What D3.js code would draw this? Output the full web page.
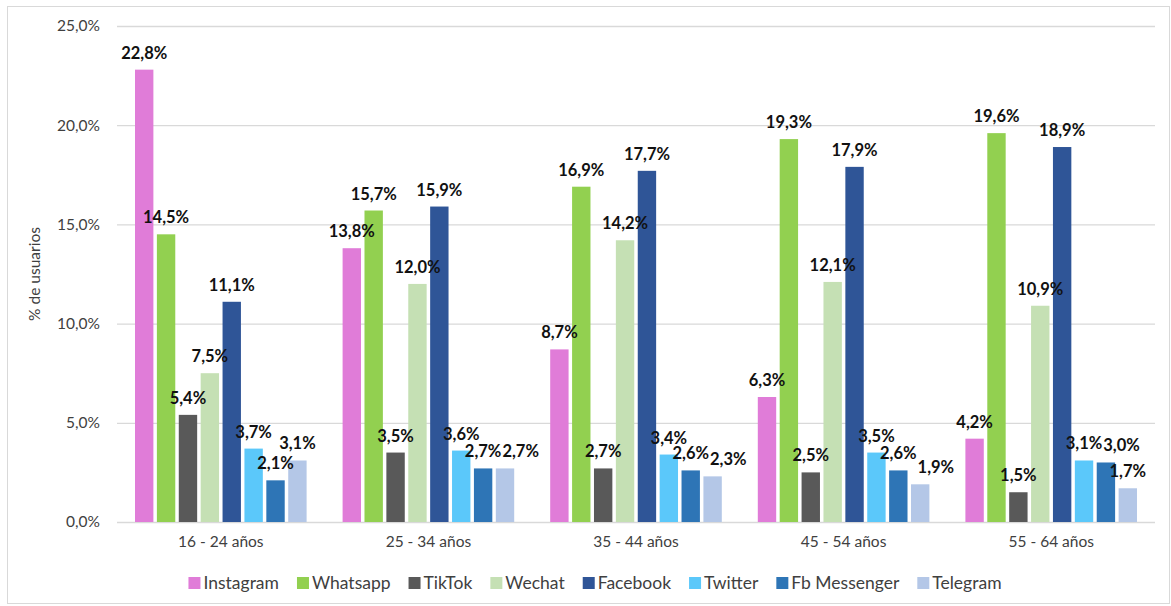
<!DOCTYPE html>
<html><head><meta charset="utf-8">
<script src="https://cdn.jsdelivr.net/npm/d3@7"></script>
<style>
html,body{margin:0;padding:0;background:#fff;}
svg text{font-family:Lato,"Open Sans",sans-serif;}
</style></head>
<body><svg id="c" width="1171" height="606"></svg>
<script>
const categories = ["16 - 24 años","25 - 34 años","35 - 44 años","45 - 54 años","55 - 64 años"];
const seriesNames = ["Instagram","Whatsapp","TikTok","Wechat","Facebook","Twitter","Fb Messenger","Telegram"];
const instagram   = [22.8, 13.8, 8.7, 6.3, 4.2];
const whatsapp    = [14.5, 15.7, 16.9, 19.3, 19.6];
const tiktok      = [5.4, 3.5, 2.7, 2.5, 1.5];
const wechat      = [7.5, 12.0, 14.2, 12.1, 10.9];
const facebook    = [11.1, 15.9, 17.7, 17.9, 18.9];
const twitter     = [3.7, 3.6, 3.4, 3.5, 3.1];
const fbMessenger = [2.1, 2.7, 2.6, 2.6, 3.0];
const telegram    = [3.1, 2.7, 2.3, 1.9, 1.7];
const yTicks = [0, 5, 10, 15, 20, 25];
const colors = ["#E07CD8","#92D050","#595959","#C5E0B4","#2F5597","#5BC8FA","#2E75B6","#B4C7E7"];

const values = [instagram, whatsapp, tiktok, wechat, facebook, twitter, fbMessenger, telegram];
const fmt = v => v.toFixed(1).replace(".", ",") + "%";

const svg = d3.select("#c");
svg.append("rect").attr("x",7.5).attr("y",6.5).attr("width",1162).attr("height",597)
  .attr("fill","#fff").attr("stroke","#d9d9d9");

const pLeft = 117, pRight = 1155, pTop = 26, pBottom = 522;
const y = d3.scaleLinear().domain([0,25]).range([pBottom, pTop]);
const x0 = d3.scaleBand().domain(categories).range([pLeft, pRight]).padding(0);
const x1 = d3.scaleBand().domain(seriesNames).range([18, x0.bandwidth()-18]).paddingInner(0.16).paddingOuter(0);

// grid
svg.append("g").selectAll("line").data(yTicks).join("line")
  .attr("x1", pLeft).attr("x2", pRight)
  .attr("y1", d => y(d)+0.5).attr("y2", d => y(d)+0.5)
  .attr("stroke", "#d9d9d9").attr("stroke-width", 1.3);

// y tick labels
const yAxis = d3.axisLeft(y).tickValues(yTicks).tickSize(0).tickPadding(17).tickFormat(fmt);
const ya = svg.append("g").attr("transform", `translate(${pLeft},0)`).call(yAxis);
ya.select(".domain").remove();
ya.selectAll("text").attr("font-size", 15.5).attr("fill", "#404040").style("font-family","Lato,sans-serif");

// x axis labels
const xAxis = d3.axisBottom(x0).tickSize(0).tickPadding(14);
const xa = svg.append("g").attr("transform", `translate(0,${pBottom})`).call(xAxis);
xa.select(".domain").remove();
xa.selectAll("text").attr("font-size", 15.5).attr("fill", "#404040").style("font-family","Lato,sans-serif");

// y title
svg.append("text").attr("transform", `translate(40,${(pTop+pBottom)/2}) rotate(-90)`)
  .attr("text-anchor","middle").attr("font-size",15.5).attr("fill","#404040").text("% de usuarios");

// bars
const data = [];
categories.forEach((c, ci) => seriesNames.forEach((s, si) => data.push({c, ci, s, si, v: values[si][ci]})));
const g = svg.append("g");
g.selectAll("rect").data(data).join("rect")
  .attr("x", d => x0(d.c) + x1(d.s))
  .attr("width", x1.bandwidth())
  .attr("y", d => y(d.v))
  .attr("height", d => pBottom - y(d.v))
  .attr("fill", d => colors[d.si]);

const labels = g.selectAll("text").data(data).join("text")
  .attr("x", d => x0(d.c) + x1(d.s) + x1.bandwidth()/2)
  .attr("y", d => y(d.v) - 11)
  .attr("text-anchor","middle")
  .attr("font-size", 16.5).attr("font-weight","bold").attr("fill","#111")
  .text(d => fmt(d.v));

// simple collision avoidance: shift overlapping labels to the right
const placed = {};
labels.each(function(d){
  const w = this.getComputedTextLength() || 36;
  let cx = x0(d.c) + x1(d.s) + x1.bandwidth()/2;
  const cy = y(d.v) - 16;
  const list = placed[d.ci] || (placed[d.ci] = []);
  for (let iter = 0; iter < 20; iter++) {
    let moved = false;
    for (const p of list) {
      const need = (p.w + w)/2 + 1;
      if (Math.abs(p.cy - cy) < 14.5 && Math.abs(p.cx - cx) < need - 0.01) {
        cx = p.cx + need; moved = true;
      }
    }
    if (!moved) break;
  }
  list.push({cx, cy, w});
  d3.select(this).attr("x", cx);
});

// legend
const lg = svg.append("g");
const items = lg.selectAll("g").data(seriesNames).join("g");
items.append("rect").attr("width",12).attr("height",12).attr("y",-12).attr("fill",(d,i)=>colors[i]);
items.append("text").attr("x",15).attr("font-size",17.5).attr("fill","#404040").text(d=>d);
let xpos = 0;
items.each(function(d){
  const w = this.querySelector("text").getComputedTextLength();
  d3.select(this).attr("transform", `translate(${xpos},0)`);
  xpos += 15 + w + 18;
});
const total = xpos - 18;
lg.attr("transform", `translate(${595 - total/2},589)`);
</script></body></html>
